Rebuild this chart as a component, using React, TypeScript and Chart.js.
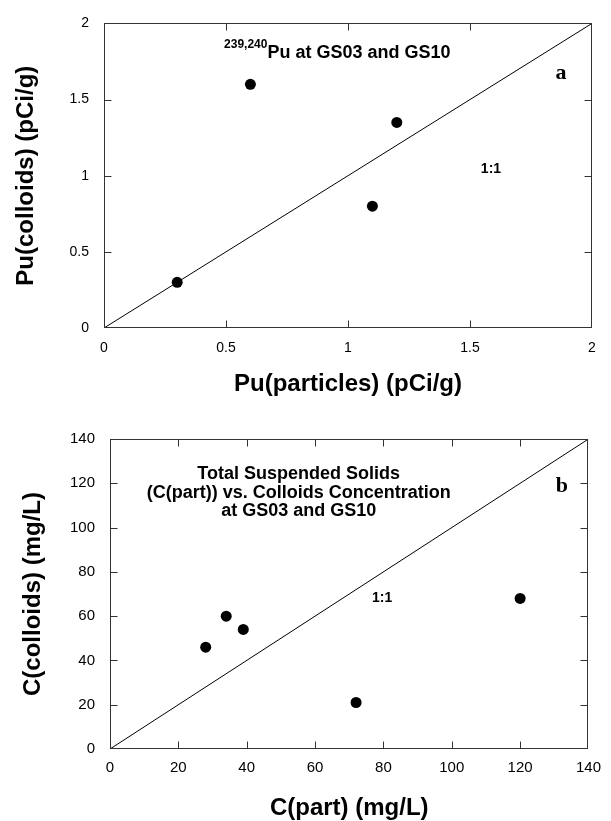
import React, { useEffect, useRef } from "react";
import { Chart, registerables } from "chart.js";

Chart.register(...registerables);

// ---------- Data: panel a ----------
const puParticles = [0.3, 0.6, 1.1, 1.2];
const puColloids = [0.3, 1.6, 0.8, 1.35];
const puTicks = [0, 0.5, 1, 1.5, 2];
const puTickLabels = ["0", "0.5", "1", "1.5", "2"];

// ---------- Data: panel b ----------
const cPart = [28, 34, 39, 72, 120];
const cColloids = [46, 60, 54, 21, 68];
const cTicks = [0, 20, 40, 60, 80, 100, 120, 140];
const cTickLabels = ["0", "20", "40", "60", "80", "100", "120", "140"];

const FONT = "'Liberation Sans', Arial, Helvetica, sans-serif";
const SERIF = "'Liberation Serif', 'Times New Roman', serif";

type Note = {
  x: number;
  y: number;
  text: string;
  font: string;
  align?: CanvasTextAlign;
  sup?: string;
  supFont?: string;
  supDy?: number;
};

const framePlugin = {
  id: "frame",
  afterDatasetsDraw(chart: any) {
    const { ctx, chartArea } = chart;
    const xs = chart.scales.x;
    const ys = chart.scales.y;
    const l = Math.round(chartArea.left) + 0.5;
    const r = Math.round(chartArea.right) - 0.5;
    const t = Math.round(chartArea.top) + 0.5;
    const b = Math.round(chartArea.bottom) - 0.5;
    const tl = 7;
    ctx.save();
    ctx.strokeStyle = "#333";
    ctx.lineWidth = 1;
    ctx.strokeRect(l, t, r - l, b - t);
    ctx.beginPath();
    xs.ticks.forEach((tk: any) => {
      if (tk.value <= xs.min || tk.value >= xs.max) return;
      const px = Math.round(xs.getPixelForValue(tk.value)) + 0.5;
      ctx.moveTo(px, b);
      ctx.lineTo(px, b - tl);
      ctx.moveTo(px, t);
      ctx.lineTo(px, t + tl);
    });
    ys.ticks.forEach((tk: any) => {
      if (tk.value <= ys.min || tk.value >= ys.max) return;
      const py = Math.round(ys.getPixelForValue(tk.value)) + 0.5;
      ctx.moveTo(l, py);
      ctx.lineTo(l + tl, py);
      ctx.moveTo(r, py);
      ctx.lineTo(r - tl, py);
    });
    ctx.stroke();
    ctx.restore();
  },
};

function notesPlugin(notes: Note[]) {
  return {
    id: "notes",
    afterDatasetsDraw(chart: any) {
      const ctx = chart.ctx;
      const xs = chart.scales.x;
      const ys = chart.scales.y;
      ctx.save();
      ctx.fillStyle = "#000";
      ctx.textBaseline = "alphabetic";
      for (const n of notes) {
        let px = xs.getPixelForValue(n.x);
        const py = ys.getPixelForValue(n.y);
        if (n.sup) {
          ctx.font = n.supFont || n.font;
          ctx.textAlign = "left";
          ctx.fillText(n.sup, px, py + (n.supDy || 0));
          px += ctx.measureText(n.sup).width;
        }
        ctx.font = n.font;
        ctx.textAlign = n.align || "left";
        ctx.fillText(n.text, px, py);
      }
      ctx.restore();
    },
  };
}

type PanelProps = {
  width: number;
  height: number;
  xs: number[];
  ys: number[];
  min: number;
  max: number;
  ticks: number[];
  tickLabels: string[];
  tickFont: number;
  xTitle: string;
  yTitle: string;
  padding: { top: number; right: number; bottom: number; left: number };
  yWidth: number;
  xHeight: number;
  xTickPad: number;
  yTickPad: number;
  xTitlePad: number;
  yTitlePad: number;
  notes: Note[];
};

function Panel(p: PanelProps) {
  const ref = useRef<HTMLCanvasElement | null>(null);
  useEffect(() => {
    if (!ref.current) return;
    const label = (v: any) => {
      const i = p.ticks.indexOf(Number(v));
      return i >= 0 ? p.tickLabels[i] : "";
    };
    const setTicks = (s: any) => {
      s.ticks = p.ticks.map((v) => ({ value: v }));
    };
    const chart = new Chart(ref.current, {
      type: "scatter",
      data: {
        datasets: [
          {
            type: "line",
            data: [
              { x: p.min, y: p.min },
              { x: p.max, y: p.max },
            ],
            borderColor: "#000",
            borderWidth: 1,
            pointRadius: 0,
            fill: false,
            order: 2,
          } as any,
          {
            data: p.xs.map((x, i) => ({ x, y: p.ys[i] })),
            pointRadius: 5.5,
            pointHoverRadius: 5.5,
            backgroundColor: "#000",
            borderColor: "#000",
            borderWidth: 0,
            order: 1,
          },
        ],
      },
      options: {
        responsive: false,
        animation: false,
        events: [],
        layout: { padding: p.padding },
        plugins: { legend: { display: false }, tooltip: { enabled: false } },
        scales: {
          x: {
            type: "linear",
            min: p.min,
            max: p.max,
            afterBuildTicks: setTicks,
            afterFit: (s: any) => {
              s.height = p.xHeight;
            },
            grid: { display: false, drawTicks: false },
            border: { display: false },
            ticks: {
              callback: label,
              padding: p.xTickPad,
              color: "#000",
              maxRotation: 0,
              autoSkip: false,
              font: { family: FONT, size: p.tickFont },
            },
            title: {
              display: true,
              text: p.xTitle,
              color: "#000",
              font: { family: FONT, size: 24, weight: "bold", lineHeight: 1 },
              padding: { top: 0, bottom: p.xTitlePad },
            },
          },
          y: {
            type: "linear",
            min: p.min,
            max: p.max,
            afterBuildTicks: setTicks,
            afterFit: (s: any) => {
              s.width = p.yWidth;
            },
            grid: { display: false, drawTicks: false },
            border: { display: false },
            ticks: {
              callback: label,
              padding: p.yTickPad,
              color: "#000",
              autoSkip: false,
              font: { family: FONT, size: p.tickFont },
            },
            title: {
              display: true,
              text: p.yTitle,
              color: "#000",
              font: { family: FONT, size: 24, weight: "bold", lineHeight: 1 },
              padding: { top: p.yTitlePad, bottom: 0 },
            },
          },
        },
      },
      plugins: [framePlugin, notesPlugin(p.notes)],
    } as any);
    return () => chart.destroy();
  }, []);
  return (
    <canvas
      ref={ref}
      width={p.width}
      height={p.height}
      style={{ display: "block", width: p.width, height: p.height }}
    />
  );
}

const notesA: Note[] = [
  {
    x: 0.492,
    y: 1.776,
    sup: "239,240",
    supFont: `bold 12px ${FONT}`,
    supDy: -10,
    text: "Pu at GS03 and GS10",
    font: `bold 18px ${FONT}`,
  },
  { x: 1.873, y: 1.633, text: "a", font: `bold 22px ${SERIF}`, align: "center" },
  { x: 1.586, y: 1.015, text: "1:1", font: `bold 14px ${FONT}`, align: "center" },
];

const notesB: Note[] = [
  { x: 55.2, y: 121.9, text: "Total Suspended Solids", font: `bold 18px ${FONT}`, align: "center" },
  { x: 55.2, y: 113.5, text: "(C(part)) vs. Colloids Concentration", font: `bold 18px ${FONT}`, align: "center" },
  { x: 55.2, y: 105.1, text: "at GS03 and GS10", font: `bold 18px ${FONT}`, align: "center" },
  { x: 132.2, y: 116, text: "b", font: `bold 22px ${SERIF}`, align: "center" },
  { x: 79.6, y: 66.6, text: "1:1", font: `bold 14px ${FONT}`, align: "center" },
];

export default function App() {
  return (
    <div
      style={{
        position: "absolute",
        left: 0,
        top: 0,
        width: 611,
        height: 821,
        background: "#fff",
      }}
    >
      <Panel
        width={611}
        height={410}
        xs={puParticles}
        ys={puColloids}
        min={0}
        max={2}
        ticks={puTicks}
        tickLabels={puTickLabels}
        tickFont={14}
        xTitle="Pu(particles) (pCi/g)"
        yTitle="Pu(colloids) (pCi/g)"
        padding={{ top: 20, right: 19, bottom: 0, left: 0 }}
        yWidth={104}
        xHeight={82}
        xTickPad={12}
        yTickPad={15}
        xTitlePad={14}
        yTitlePad={14}
        notes={notesA}
      />
      <Panel
        width={611}
        height={411}
        xs={cPart}
        ys={cColloids}
        min={0}
        max={140}
        ticks={cTicks}
        tickLabels={cTickLabels}
        tickFont={15}
        xTitle="C(part) (mg/L)"
        yTitle="C(colloids) (mg/L)"
        padding={{ top: 29, right: 14, bottom: 0, left: 0 }}
        yWidth={110}
        xHeight={72}
        xTickPad={10}
        yTickPad={15}
        xTitlePad={1}
        yTitlePad={21}
        notes={notesB}
      />
    </div>
  );
}
